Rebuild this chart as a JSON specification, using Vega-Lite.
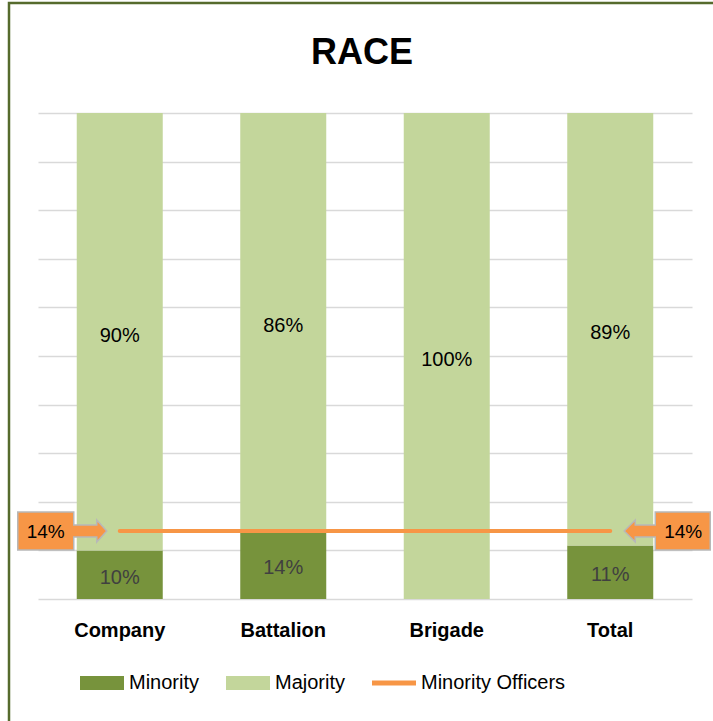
{
  "$schema": "https://vega.github.io/schema/vega-lite/v6.json",
  "width": 654,
  "height": 486,
  "autosize": "none",
  "padding": {"left": 38, "top": 113, "right": 21, "bottom": 122},
  "background": "white",
  "title": {"text": "RACE", "fontSize": 36, "fontWeight": "bold", "font": "Liberation Sans", "color": "#000000", "frame": "group", "anchor": "middle", "baseline": "alphabetic", "offset": -98, "dx": -3},
  "config": {
    "view": {"stroke": null},
    "font": "Liberation Sans",
    "axisX": {"domain": false, "ticks": false, "tickSize": 0, "grid": false, "labelPadding": 21, "labelFontSize": 20, "labelFontWeight": "bold", "labelColor": "#000000", "labelFont": "Liberation Sans", "labelAngle": 0},
    "axisY": {"domain": false, "ticks": false, "labels": false, "grid": true, "gridColor": "#d9d9d9", "gridWidth": 1.5, "values": [0, 10, 20, 30, 40, 50, 60, 70, 80, 90, 100]}
  },
  "datasets": {
    "bars": [
      {"category": "Company", "group": "Minority", "value": 10, "label": "10%"},
      {"category": "Company", "group": "Majority", "value": 90, "label": "90%"},
      {"category": "Battalion", "group": "Minority", "value": 14, "label": "14%"},
      {"category": "Battalion", "group": "Majority", "value": 86, "label": "86%"},
      {"category": "Brigade", "group": "Minority", "value": 0, "label": "0%"},
      {"category": "Brigade", "group": "Majority", "value": 100, "label": "100%"},
      {"category": "Total", "group": "Minority", "value": 11, "label": "11%"},
      {"category": "Total", "group": "Majority", "value": 89, "label": "89%"}
    ],
    "officers": [
      {"category": "Company", "value": 14},
      {"category": "Battalion", "value": 14},
      {"category": "Brigade", "value": 14},
      {"category": "Total", "value": 14}
    ],
    "callouts": [
      {"category": "Company", "side": "left", "value": 14, "label": "14%"},
      {"category": "Total", "side": "right", "value": 14, "label": "14%"}
    ],
    "frame": [{"name": "frame"}]
  },
  "layer": [
    {
      "data": {"name": "frame"},
      "mark": {"type": "rect", "fill": "white", "fillOpacity": 0, "stroke": "#566b2d", "strokeWidth": 2.5},
      "encoding": {
        "x": {"value": -29},
        "x2": {"value": 690},
        "y": {"value": -110},
        "y2": {"value": 620}
      }
    },
    {
      "data": {"name": "bars"},
      "mark": {"type": "bar"},
      "encoding": {
        "x": {"field": "category", "type": "nominal", "sort": ["Company", "Battalion", "Brigade", "Total"], "title": null, "scale": {"paddingInner": 0.474, "paddingOuter": 0.237}},
        "y": {"field": "value", "type": "quantitative", "stack": "zero", "title": null, "scale": {"domain": [0, 100]}},
        "color": {
          "field": "group", "type": "nominal",
          "scale": {"domain": ["Minority", "Majority", "Minority Officers"], "range": ["#77933c", "#c3d69b", "#f79646"]},
          "legend": {
            "orient": "none", "legendX": 42, "legendY": 548, "direction": "horizontal", "title": null,
            "symbolSize": 1936, "labelFontSize": 20, "labelFont": "Liberation Sans", "labelColor": "#000000",
            "labelOffset": 5, "columnPadding": 26, "symbolStrokeWidth": 0, "symbolOpacity": 1,
            "encode": {"symbols": {"update": {"shape": {"signal": "datum.value === 'Minority Officers' ? 'M-1,-0.11H1V0.11H-1Z' : 'M-1,-0.32H1V0.32H-1Z'"}}}}
          }
        },
        "order": {"field": "group", "sort": "descending"}
      }
    },
    {
      "data": {"name": "bars"},
      "transform": [
        {"stack": "value", "groupby": ["category"], "sort": [{"field": "group", "order": "descending"}], "as": ["v0", "v1"]},
        {"calculate": "(datum.v0 + datum.v1) / 2", "as": "mid"},
        {"filter": "datum.value > 0 && datum.group === 'Majority'"}
      ],
      "mark": {"type": "text", "fontSize": 20, "font": "Liberation Sans", "color": "#000000", "dy": 4},
      "encoding": {
        "x": {"field": "category", "type": "nominal", "sort": ["Company", "Battalion", "Brigade", "Total"], "title": null},
        "y": {"field": "mid", "type": "quantitative", "title": null},
        "text": {"field": "label"}
      }
    },
    {
      "data": {"name": "bars"},
      "transform": [
        {"stack": "value", "groupby": ["category"], "sort": [{"field": "group", "order": "descending"}], "as": ["v0", "v1"]},
        {"calculate": "(datum.v0 + datum.v1) / 2", "as": "mid"},
        {"filter": "datum.value > 0 && datum.group === 'Minority'"}
      ],
      "mark": {"type": "text", "fontSize": 20, "font": "Liberation Sans", "color": "#404040", "dy": 3},
      "encoding": {
        "x": {"field": "category", "type": "nominal", "sort": ["Company", "Battalion", "Brigade", "Total"], "title": null},
        "y": {"field": "mid", "type": "quantitative", "title": null},
        "text": {"field": "label"}
      }
    },
    {
      "data": {"name": "officers"},
      "mark": {"type": "line", "color": "#f79646", "strokeWidth": 4, "strokeCap": "round"},
      "encoding": {
        "x": {"field": "category", "type": "nominal", "sort": ["Company", "Battalion", "Brigade", "Total"], "title": null},
        "y": {"field": "value", "type": "quantitative", "title": null}
      }
    },
    {
      "data": {"name": "callouts"},
      "mark": {"type": "point", "filled": true, "fill": "#f79646", "stroke": "#b8b8b8", "strokeWidth": 1.5, "opacity": 1, "size": 4},
      "encoding": {
        "x": {"field": "category", "type": "nominal", "sort": ["Company", "Battalion", "Brigade", "Total"], "title": null},
        "y": {"field": "value", "type": "quantitative", "title": null},
        "shape": {
          "field": "side", "type": "nominal", "legend": null,
          "scale": {"domain": ["left", "right"], "range": ["M-102,-19H-46V-6H-23V-11L-13,0L-23,11V6H-46V19H-102Z", "M100,-19H45V-6H25V-11L14,0L25,11V6H45V19H100Z"]}
        }
      }
    },
    {
      "data": {"name": "callouts"},
      "transform": [{"filter": "datum.side === 'left'"}],
      "mark": {"type": "text", "fontSize": 19, "font": "Liberation Sans", "color": "#000000", "dx": -74, "dy": 1},
      "encoding": {
        "x": {"field": "category", "type": "nominal", "sort": ["Company", "Battalion", "Brigade", "Total"], "title": null},
        "y": {"field": "value", "type": "quantitative", "title": null},
        "text": {"field": "label"}
      }
    },
    {
      "data": {"name": "callouts"},
      "transform": [{"filter": "datum.side === 'right'"}],
      "mark": {"type": "text", "fontSize": 19, "font": "Liberation Sans", "color": "#000000", "dx": 73, "dy": 1},
      "encoding": {
        "x": {"field": "category", "type": "nominal", "sort": ["Company", "Battalion", "Brigade", "Total"], "title": null},
        "y": {"field": "value", "type": "quantitative", "title": null},
        "text": {"field": "label"}
      }
    }
  ]
}
